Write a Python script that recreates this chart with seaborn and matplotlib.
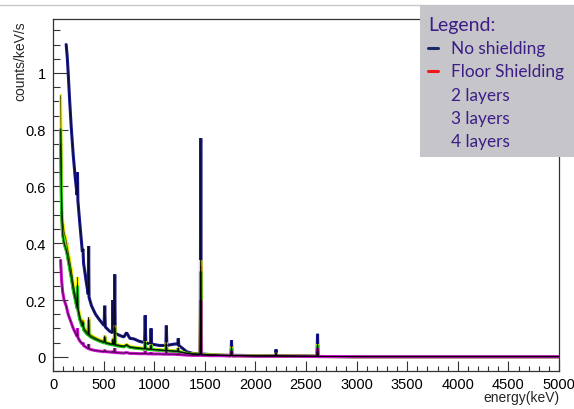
import numpy as np
import pandas as pd
import matplotlib
matplotlib.use("Agg")
import matplotlib.pyplot as plt
import seaborn as sns
from matplotlib.patches import Rectangle
from matplotlib.lines import Line2D
from matplotlib.ticker import MultipleLocator, FuncFormatter

nan = np.nan

energy = [75, 85, 95, 110,
          130, 140, 150, 165, 180, 200, 220,
          238, 242, 246,
          265, 290, 296, 302,
          330, 348, 352, 356,
          380, 420, 460,
          505, 511, 517,
          560, 587, 592, 597,
          605, 610, 615,
          660, 700, 727, 760, 800, 850,
          905, 911, 917,
          964, 969, 974,
          1050, 1115, 1120, 1125,
          1200, 1233, 1238, 1243,
          1280, 1320, 1380,
          1455, 1460, 1465,
          1550, 1650,
          1759, 1764, 1769,
          1850, 2000,
          2199, 2204, 2209,
          2400, 2500,
          2609, 2614, 2619,
          2700, 3000, 3500, 4000, 4500, 5000]

no_shielding = [nan, nan, nan, nan,
                1.10, 1.06, 1.00, 0.90, 0.81, 0.71, 0.63,
                0.57, 0.65, 0.55,
                0.47, 0.37, 0.38, 0.33,
                0.26, 0.22, 0.39, 0.21,
                0.18, 0.15, 0.13,
                0.11, 0.18, 0.105,
                0.09, 0.085, 0.20, 0.085,
                0.085, 0.29, 0.083,
                0.075, 0.07, 0.085, 0.065, 0.063, 0.055,
                0.05, 0.146, 0.048,
                0.046, 0.10, 0.045,
                0.04, 0.04, 0.11, 0.04,
                0.045, 0.045, 0.065, 0.04,
                0.03, 0.018, 0.012,
                0.01, 0.77, 0.01,
                0.008, 0.006,
                0.005, 0.058, 0.005,
                0.005, 0.004,
                0.004, 0.026, 0.004,
                0.003, 0.003,
                0.002, 0.081, 0.001,
                0.001, 0.0005, 0.0005, 0.0005, 0.0005, 0.0005]

floor_shielding = [0.75, 0.52, 0.44, 0.40,
                   0.38, 0.365, 0.345, 0.315, 0.285, 0.24, 0.205,
                   0.175, 0.26, 0.17,
                   0.135, 0.11, 0.125, 0.10,
                   0.086, 0.079, 0.135, 0.077,
                   0.07, 0.063, 0.057,
                   0.051, 0.072, 0.05,
                   0.046, 0.044, 0.062, 0.043,
                   0.043, 0.105, 0.042,
                   0.039, 0.036, 0.042, 0.034, 0.032, 0.03,
                   0.028, 0.052, 0.028,
                   0.026, 0.042, 0.026,
                   0.024, 0.022, 0.047, 0.022,
                   0.02, 0.019, 0.031, 0.018,
                   0.015, 0.012, 0.009,
                   0.008, 0.32, 0.008,
                   0.006, 0.005,
                   0.004, 0.032, 0.004,
                   0.004, 0.003,
                   0.003, 0.013, 0.003,
                   0.002, 0.002,
                   0.002, 0.042, 0.001,
                   0.001, 0.0005, 0.0005, 0.0005, 0.0005, 0.0005]

layers_2 = [0.92, 0.58, 0.48, 0.44,
            0.41, 0.39, 0.37, 0.34, 0.31, 0.26, 0.22,
            0.19, 0.28, 0.18,
            0.145, 0.118, 0.13, 0.106,
            0.091, 0.084, 0.14, 0.082,
            0.075, 0.067, 0.06,
            0.054, 0.075, 0.053,
            0.048, 0.046, 0.065, 0.045,
            0.045, 0.11, 0.044,
            0.041, 0.038, 0.044, 0.036, 0.034, 0.032,
            0.03, 0.055, 0.029,
            0.028, 0.045, 0.027,
            0.025, 0.023, 0.05, 0.023,
            0.021, 0.02, 0.033, 0.019,
            0.016, 0.013, 0.01,
            0.009, 0.34, 0.008,
            0.007, 0.006,
            0.005, 0.035, 0.005,
            0.004, 0.004,
            0.003, 0.014, 0.003,
            0.003, 0.002,
            0.002, 0.045, 0.002,
            0.001, 0.0005, 0.0005, 0.0005, 0.0005, 0.0005]

layers_3 = [0.80, 0.50, 0.43, 0.40,
            0.375, 0.36, 0.34, 0.31, 0.28, 0.235, 0.20,
            0.17, 0.25, 0.165,
            0.13, 0.105, 0.12, 0.095,
            0.082, 0.076, 0.13, 0.074,
            0.068, 0.061, 0.055,
            0.049, 0.07, 0.048,
            0.044, 0.042, 0.06, 0.041,
            0.041, 0.10, 0.04,
            0.037, 0.035, 0.04, 0.033, 0.031, 0.029,
            0.027, 0.05, 0.027,
            0.025, 0.04, 0.025,
            0.023, 0.021, 0.045, 0.021,
            0.019, 0.018, 0.03, 0.017,
            0.015, 0.012, 0.009,
            0.008, 0.30, 0.007,
            0.006, 0.005,
            0.004, 0.03, 0.004,
            0.004, 0.003,
            0.003, 0.012, 0.003,
            0.002, 0.002,
            0.002, 0.04, 0.001,
            0.001, 0.0005, 0.0005, 0.0005, 0.0005, 0.0005]

layers_4 = [0.34, 0.27, 0.23, 0.20,
            0.18, 0.165, 0.15, 0.135, 0.12, 0.10, 0.085,
            0.072, 0.10, 0.068,
            0.056, 0.045, 0.05, 0.04,
            0.033, 0.029, 0.045, 0.028,
            0.025, 0.022, 0.02,
            0.018, 0.025, 0.018,
            0.017, 0.016, 0.02, 0.016,
            0.016, 0.03, 0.015,
            0.014, 0.013, 0.015, 0.012, 0.012, 0.011,
            0.011, 0.02, 0.011,
            0.01, 0.015, 0.01,
            0.01, 0.009, 0.02, 0.009,
            0.009, 0.008, 0.012, 0.008,
            0.007, 0.006, 0.005,
            0.005, 0.20, 0.005,
            0.004, 0.004,
            0.003, 0.02, 0.003,
            0.003, 0.002,
            0.002, 0.008, 0.002,
            0.002, 0.001,
            0.001, 0.03, 0.001,
            0.001, 0.0005, 0.0005, 0.0005, 0.0005, 0.0005]

series_names = ["No shielding", "Floor Shielding", "2 layers", "3 layers", "4 layers"]
series_values = [no_shielding, floor_shielding, layers_2, layers_3, layers_4]
series_colors = ["#1a1a8c", "#e8201c", "#f2f200", "#22cc22", "#cc10cc"]

x_ticks = [0, 500, 1000, 1500, 2000, 2500, 3000, 3500, 4000, 4500, 5000]
y_ticks = [0, 0.2, 0.4, 0.6, 0.8, 1.0]

frames = []
for name, vals in zip(series_names, series_values):
    frames.append(pd.DataFrame({"energy": energy, "counts": vals, "series": name}))
df = pd.concat(frames, ignore_index=True).dropna()

sns.set_theme(style="ticks")
plt.rcParams["font.family"] = ["Liberation Sans", "DejaVu Sans"]

W, H = 574, 410
fig = plt.figure(figsize=(W / 100, H / 100), dpi=100)
fig.patch.set_facecolor("white")

def fx(px):
    return px / W

def fy(py):
    return 1 - py / H

ax = fig.add_axes([fx(53), fy(372), fx(559) - fx(53), fy(20) - fy(372)])

draw_order = ["No shielding", "Floor Shielding", "2 layers", "3 layers", "4 layers"]
for name in draw_order:
    sub = df[df["series"] == name]
    col = series_colors[series_names.index(name)]
    sns.lineplot(data=sub, x="energy", y="counts", color=col, lw=2.2,
                 estimator=None, sort=True, ax=ax, legend=False,
                 solid_joinstyle="bevel")
for name in draw_order:
    sub = df[df["series"] == name]
    sns.lineplot(data=sub, x="energy", y="counts", color="black", lw=0.6,
                 alpha=0.7, estimator=None, sort=True, ax=ax, legend=False,
                 solid_joinstyle="bevel")

ax.set_xlim(0, 5000)
ax.set_ylim(-0.05, 1.19)
ax.set_xticks(x_ticks)
ax.set_yticks(y_ticks)
ax.xaxis.set_minor_locator(MultipleLocator(100))
ax.yaxis.set_minor_locator(MultipleLocator(0.05))
ax.yaxis.set_major_formatter(FuncFormatter(lambda v, p: "%g" % round(v, 2)))
ax.tick_params(which="both", direction="in", top=False, right=False,
               colors="#333333", labelcolor="black", labelsize=10.5, width=0.8)
ax.xaxis.set_tick_params(which="major", length=7, pad=4)
ax.xaxis.set_tick_params(which="minor", length=3.5)
ax.yaxis.set_tick_params(which="major", length=10.5, pad=5)
ax.yaxis.set_tick_params(which="minor", length=5.2)
for s in ax.spines.values():
    s.set_color("#333333")
    s.set_linewidth(0.9)
ax.set_xlabel("")
ax.set_ylabel("")

fig.text(fx(20), fy(21), "counts/keV/s", rotation=90, ha="center", va="top", fontsize=10)
fig.text(fx(559), fy(398), "energy(keV)", ha="right", va="center", fontsize=10)

# top light rule
fig.add_artist(Line2D([0, 1], [fy(6), fy(6)], color="#c8c8c8", lw=1.0,
                      transform=fig.transFigure))

# legend box
fig.add_artist(Rectangle((fx(420), fy(158)), 1 - fx(420), fy(6) - fy(158),
                         transform=fig.transFigure, facecolor="#c6c6ca",
                         edgecolor="none", zorder=5))
tcol = "#3d1d86"
lfont = ["Lato", "DejaVu Sans"]
fig.text(fx(428), fy(25), "Legend:", color=tcol, fontsize=14, ha="left", va="center",
         family=lfont, zorder=6)
rows_y = [49, 72, 96, 119, 142]
for name, yy in zip(series_names, rows_y):
    fig.text(fx(451), fy(yy), name, color=tcol, fontsize=12.4, ha="left", va="center",
             family=lfont, zorder=6)
fig.add_artist(Line2D([fx(428), fx(438)], [fy(49), fy(49)], color="#1a2a6c", lw=2.2,
                      transform=fig.transFigure, zorder=6))
fig.add_artist(Line2D([fx(428), fx(438)], [fy(72), fy(72)], color="#f01818", lw=2.2,
                      transform=fig.transFigure, zorder=6))

fig.savefig("out.png", dpi=100)
